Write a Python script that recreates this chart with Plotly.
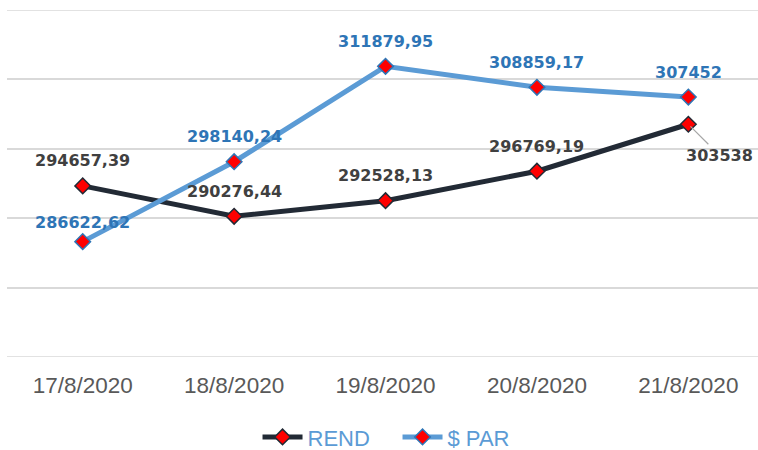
import plotly.graph_objects as go

dates = ["17/8/2020", "18/8/2020", "19/8/2020", "20/8/2020", "21/8/2020"]
rend = [294657.39, 290276.44, 292528.13, 296769.19, 303538]
par = [286622.62, 298140.24, 311879.95, 308859.17, 307452]

# label offsets (pixels above the marker)
rend_shift = [25, 25, 25, 25, None]
par_shift = [19, 25, 25, 25, 25]

def fmt(v):
    s = f"{v:.2f}".rstrip("0").rstrip(".")
    return s.replace(".", ",")

fig = go.Figure()
fig.add_trace(go.Scatter(
    x=dates, y=rend, name="REND", mode="lines+markers",
    line=dict(color="#222a35", width=5),
    marker=dict(symbol="diamond", size=12, color="#ff0000",
                line=dict(color="#222a35", width=1.5)),
))
fig.add_trace(go.Scatter(
    x=dates, y=par, name="$ PAR", mode="lines+markers",
    line=dict(color="#5b9bd5", width=5),
    marker=dict(symbol="diamond", size=12, color="#ff0000",
                line=dict(color="#2e75b6", width=1.5)),
))

lab_font = dict(family="DejaVu Sans", size=16)
for d, v, s in zip(dates, rend, rend_shift):
    if s is None:
        fig.add_annotation(x=d, y=v, text="<b>" + fmt(v) + "</b>", showarrow=True,
                           arrowhead=0, arrowwidth=1.2, arrowcolor="#a6a6a6",
                           ax=31, ay=31, standoff=3,
                           font=dict(color="#404040", **lab_font))
    else:
        fig.add_annotation(x=d, y=v, text="<b>" + fmt(v) + "</b>", showarrow=False,
                           yshift=s, font=dict(color="#404040", **lab_font))
for d, v, s in zip(dates, par, par_shift):
    fig.add_annotation(x=d, y=v, text="<b>" + fmt(v) + "</b>", showarrow=False,
                       yshift=s, font=dict(color="#2e75b6", **lab_font))

fig.update_layout(
    width=758, height=450,
    margin=dict(l=7, r=0, t=10, b=93, autoexpand=False),
    plot_bgcolor="white", paper_bgcolor="white",
    showlegend=True,
    legend=dict(orientation="h", x=0.52, xanchor="center", y=-0.231, yanchor="middle",
                font=dict(family="Liberation Sans", size=22, color="#5b9bd5"),
                itemwidth=40, entrywidth=85, entrywidthmode="pixels"),
    xaxis=dict(type="category", range=[-0.5, 4.46], showgrid=False,
               showline=False, ticks="", automargin=False, ticklabelstandoff=12,
               tickfont=dict(family="Liberation Sans", size=22.5, color="#595959")),
    yaxis=dict(range=[270000, 320000], dtick=10000, showticklabels=False,
               showgrid=True, gridcolor="#d9d9d9", gridwidth=1.5, automargin=False,
               zeroline=False, showline=False, ticks=""),
)
fig.add_shape(type="line", xref="paper", yref="y", x0=0, x1=1, y0=270000, y1=270000,
              line=dict(color="#d9d9d9", width=1.5), layer="below")
fig.add_shape(type="line", xref="paper", yref="y", x0=0, x1=1, y0=320000, y1=320000,
              line=dict(color="#d9d9d9", width=1.5), layer="below")

fig.write_html("out.html", config={"displayModeBar": False},
               post_script="document.body.style.margin='0';document.body.style.overflow='hidden';")
